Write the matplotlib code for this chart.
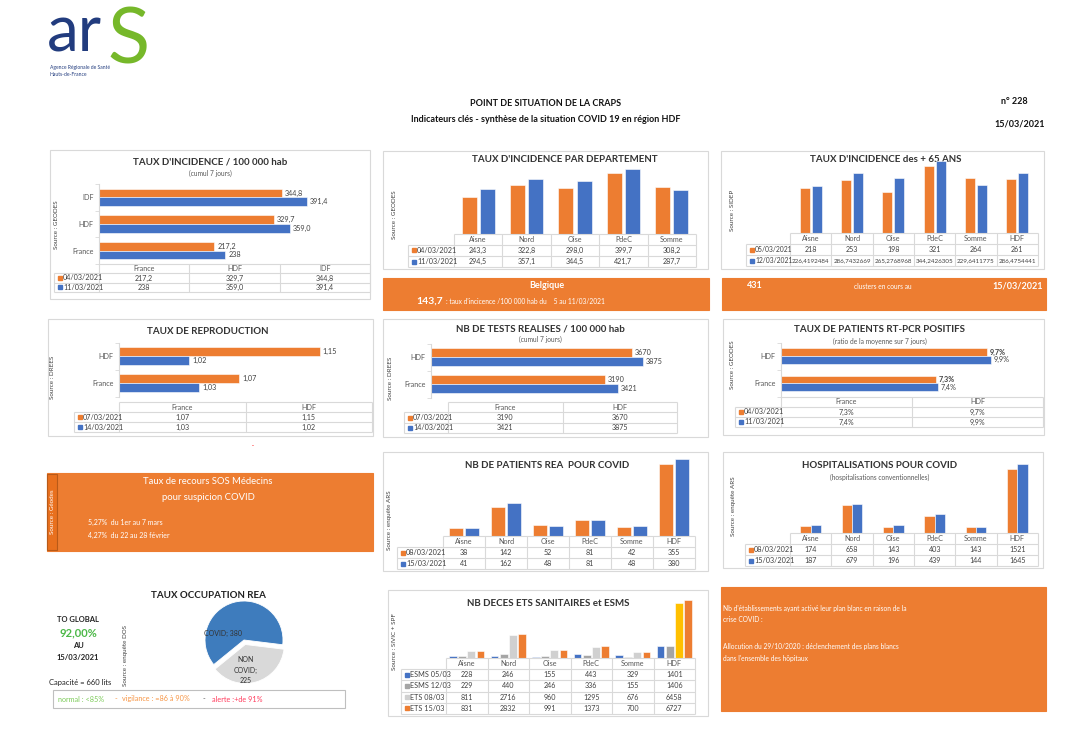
import numpy as np
import matplotlib
matplotlib.use("Agg")
import matplotlib.pyplot as plt
from matplotlib.patches import Rectangle
from matplotlib.transforms import ScaledTranslation

plt.rcParams['font.family'] = ['Lato', 'DejaVu Sans']

W, H = 1083, 734
ORANGE = '#ED7D31'
BLUE = '#4472C4'
GREY = '#A5A5A5'
LGREY = '#D0D0D0'
GOLD = '#FFC000'
TXT = '#404040'
LINE = '#D9D9D9'

# ---- data ----
inc_cats = ['France', 'HDF', 'IDF']
inc_0403 = [217.2, 329.7, 344.8]
inc_1103 = [238, 359.0, 391.4]

dep_cats = ['Aisne', 'Nord', 'Oise', 'PdeC', 'Somme']
dep_0403 = [243.3, 322.8, 298.0, 399.7, 308.2]
dep_1103 = [294.5, 357.1, 344.5, 421.7, 287.7]

age_cats = ['Aisne', 'Nord', 'Oise', 'PdeC', 'Somme', 'HDF']
age_0503 = [218, 253, 198, 321, 264, 261]
age_1203 = [226.4192484, 286.7432669, 265.2768968, 344.2426305, 229.6411775, 286.4754441]

r_cats = ['France', 'HDF']
r_0703 = [1.07, 1.15]
r_1403 = [1.03, 1.02]

test_cats = ['France', 'HDF']
test_0703 = [3190, 3670]
test_1403 = [3421, 3875]

pcr_cats = ['France', 'HDF']
pcr_0403 = [7.3, 9.7]
pcr_1103 = [7.4, 9.9]

rea_cats = ['Aisne', 'Nord', 'Oise', 'PdeC', 'Somme', 'HDF']
rea_0803 = [38, 142, 52, 81, 42, 355]
rea_1503 = [41, 162, 48, 81, 48, 380]

hosp_cats = ['Aisne', 'Nord', 'Oise', 'PdeC', 'Somme', 'HDF']
hosp_0803 = [174, 658, 143, 403, 143, 1521]
hosp_1503 = [187, 679, 196, 439, 144, 1645]

dc_cats = ['Aisne', 'Nord', 'Oise', 'PdeC', 'Somme', 'HDF']
dc_esms_0503 = [228, 246, 155, 443, 329, 1401]
dc_esms_1203 = [229, 440, 246, 336, 155, 1406]
dc_ets_0803 = [811, 2716, 960, 1295, 676, 6458]
dc_ets_1503 = [831, 2832, 991, 1373, 700, 6727]
dc_names = ['ESMS 05/03', 'ESMS 12/03', 'ETS 08/03', 'ETS 15/03']

occ_names = ['COVID', 'NON\nCOVID']
occ_values = [380, 225]


def frac(x0, y0, x1, y1):
    # pixel box (top-left origin) -> figure fraction
    return [x0 / W, 1 - y1 / H, (x1 - x0) / W, (y1 - y0) / H]


def fr(v, suffix=''):
    return str(v).replace('.', ',') + suffix


fig = plt.figure(figsize=(W / 100, H / 100), dpi=100)
bg = fig.add_axes([0, 0, 1, 1])
bg.set_xlim(0, W)
bg.set_ylim(H, 0)
bg.axis('off')


def box(x0, y0, x1, y1, fc='none', ec=LINE):
    bg.add_patch(Rectangle((x0, y0), x1 - x0, y1 - y0, fc=fc, ec=ec, lw=0.8))


def title(x, y, s, sub=None, sy=None):
    bg.text(x, y, s, ha='center', va='center', fontsize=7, fontweight='bold', color='#333333')
    if sub:
        bg.text(x, sy, sub, ha='center', va='center', fontsize=4.8, color='#595959')


def source(x, y, s, color=TXT):
    bg.text(x, y, s, ha='center', va='center', rotation=90, fontsize=4.5, color=color)


def table(label_x, data_x, right, top, bottom, cols, rows, colors, cells, suffix='', vfs=None, lfs=5.2):
    n = len(cols)
    nr = len(rows)
    if vfs is None:
        vfs = [5.1] * nr
    lw = (data_x - label_x) / ((right - data_x) / n)
    ax = fig.add_axes(frac(label_x, top, right, bottom))
    ax.set_xlim(-0.5 - lw, n - 0.5)
    ax.set_ylim(nr + 1, 0)
    ax.axis('off')
    ax.hlines([0], -0.5, n - 0.5, color=LINE, lw=0.8, clip_on=False)
    ax.hlines(range(1, nr + 2), -0.5 - lw, n - 0.5, color=LINE, lw=0.8, clip_on=False)
    ax.vlines([i - 0.5 for i in range(n + 1)], 0, nr + 1, color=LINE, lw=0.8, clip_on=False)
    ax.vlines([-0.5 - lw], 1, nr + 1, color=LINE, lw=0.8, clip_on=False)
    for i, c in enumerate(cols):
        ax.text(i, 0.5, c, ha='center', va='center', fontsize=5.2, color='#595959')
    off1 = ax.transData + ScaledTranslation(4 / 72, 0, fig.dpi_scale_trans)
    off2 = ax.transData + ScaledTranslation(6.5 / 72, 0, fig.dpi_scale_trans)
    for r in range(nr):
        y = r + 1.5
        ax.plot([-0.5 - lw], [y], marker='s', ms=3, color=colors[r], transform=off1, clip_on=False)
        ax.text(-0.5 - lw, y, rows[r], ha='left', va='center', fontsize=lfs, color=TXT, transform=off2)
        for i, v in enumerate(cells[r]):
            ax.text(i, y, fr(v, suffix), ha='center', va='center', fontsize=vfs[r], color=TXT)
    return ax


def columns(data_x, right, top, base, ymax, series, colors, width, offsets):
    ax = fig.add_axes(frac(data_x, top, right, base))
    ax.patch.set_alpha(0)
    x = np.arange(len(series[0]))
    conts = []
    for s, c, o in zip(series, colors, offsets):
        conts.append(ax.bar(x + o, s, width, color=c, edgecolor='white', linewidth=0.4))
    ax.set_xlim(-0.5, len(x) - 0.5)
    ax.set_ylim(0, ymax)
    ax.axis('off')
    return ax, conts


def hbars(x0, x1, y0, y1, cats, s_old, s_new, xlim, h, suffix='', bold_old=False):
    ax = fig.add_axes(frac(x0, y0, x1, y1))
    ax.patch.set_alpha(0)
    y = np.arange(len(cats))
    b1 = ax.barh(y + h / 2, s_old, h, color=ORANGE, edgecolor='white', linewidth=0.4)
    b2 = ax.barh(y - h / 2, s_new, h, color=BLUE, edgecolor='white', linewidth=0.4)
    ax.bar_label(b1, labels=[fr(v, suffix) for v in s_old], padding=2, fontsize=5.2, color=TXT,
                 fontweight='bold' if bold_old else 'normal')
    ax.bar_label(b2, labels=[fr(v, suffix) for v in s_new], padding=2, fontsize=5.2, color=TXT)
    ax.set_xlim(*xlim)
    ax.set_ylim(-0.5, len(cats) - 0.5)
    ax.set_yticks(y, cats, fontsize=5.2, color='#595959')
    ax.set_yticks(np.arange(len(cats) + 1) - 0.5, minor=True)
    ax.tick_params(axis='y', which='major', length=0, pad=4)
    ax.tick_params(axis='y', which='minor', length=3, color=LINE)
    ax.set_xticks([])
    for s in ['top', 'right', 'bottom']:
        ax.spines[s].set_visible(False)
    ax.spines['left'].set_color(LINE)
    return ax


# ---- header ----
bg.text(47, 52, 'ar', fontsize=46, color='#223C7E', ha='left', va='baseline')
bg.text(108, 64, 'S', fontsize=56, color='#76B82A', ha='left', va='baseline')
bg.text(50, 68, 'Agence Régionale de Santé', fontsize=3.6, color='#223C7E', va='center')
bg.text(50, 74, 'Hauts-de-France', fontsize=3.6, color='#223C7E', va='center')
bg.text(546, 103, 'POINT DE SITUATION DE LA CRAPS', ha='center', va='center', fontsize=6.5,
        fontweight='bold', color='#111111')
bg.text(546, 119, 'Indicateurs clés - synthèse de la situation COVID 19 en région HDF', ha='center',
        va='center', fontsize=6.5, fontweight='bold', color='#111111')
bg.text(1028, 101, 'n° 228', ha='right', va='center', fontsize=6.5, fontweight='bold', color='#111111')
bg.text(1045, 124, '15/03/2021', ha='right', va='center', fontsize=6.5, fontweight='bold', color='#111111')

# ---- taux d'incidence ----
box(50, 150, 370, 299)
title(210, 162, "TAUX D'INCIDENCE / 100 000 hab", '(cumul 7 jours)', 173)
source(56, 225, 'Source : GEODES')
hbars(99, 338, 184, 264, inc_cats, inc_0403, inc_1103, (0, 450), 0.32)
table(54, 99, 370, 264, 292, inc_cats, ['04/03/2021', '11/03/2021'], [ORANGE, BLUE],
      [inc_0403, inc_1103])

# ---- incidence par departement ----
box(383, 151, 708, 269)
title(565, 160, "TAUX D'INCIDENCE PAR DEPARTEMENT")
source(395, 215, 'Source : GEODES')
columns(454, 696, 165, 234, 450, [dep_0403, dep_1103], [ORANGE, BLUE], 0.31, [-0.19, 0.19])
table(408, 454, 696, 234, 267, dep_cats, ['04/03/2021', '11/03/2021'], [ORANGE, BLUE],
      [dep_0403, dep_1103])

# ---- incidence +65 ----
box(721, 151, 1044, 269)
title(886, 160, "TAUX D'INCIDENCE des + 65 ANS")
source(733, 210, 'Source : SIDEP')
columns(790, 1038, 160, 233, 350, [age_0503, age_1203], [ORANGE, BLUE], 0.245, [-0.145, 0.145])
table(746, 790, 1038, 233, 266, age_cats, ['05/03/2021', '12/03/2021'], [ORANGE, BLUE],
      [age_0503, age_1203], vfs=[5.1, 4.5], lfs=4.9)

# ---- orange banners ----
box(383, 278, 709, 310, fc=ORANGE, ec=ORANGE)
bg.text(547, 286, 'Belgique', ha='center', va='center', fontsize=6.5, fontweight='bold', color='white')
bg.text(443, 301, '143,7', ha='right', va='center', fontsize=7.5, fontweight='bold', color='white')
bg.text(446, 301.5, ": taux d'incicence /100 000 hab du    5 au 11/03/2021", ha='left', va='center',
        fontsize=4.8, color='white')
box(722, 278, 1046, 310, fc=ORANGE, ec=ORANGE)
bg.text(747, 286, '431', ha='left', va='center', fontsize=6.5, fontweight='bold', color='white')
bg.text(883, 286.5, 'clusters en cours au', ha='center', va='center', fontsize=4.8, color='white')
bg.text(1043, 286, '15/03/2021', ha='right', va='center', fontsize=6.5, fontweight='bold', color='white')

# ---- taux de reproduction ----
box(48, 319, 373, 436)
title(208, 332, 'TAUX DE REPRODUCTION')
source(53, 377, 'Source : DREES')
hbars(119, 370, 343, 396.5, r_cats, r_0703, r_1403, (0.95, 1.2), 0.34)
table(74, 119, 372, 402, 432, r_cats, ['07/03/2021', '14/03/2021'], [ORANGE, BLUE], [r_0703, r_1403])
bg.text(253, 447, '.', ha='center', va='bottom', fontsize=6, color='red')

# ---- tests ----
box(383, 319, 708, 437)
title(540, 329, 'NB DE TESTS REALISES / 100 000 hab', '(cumul 7 jours)', 339)
source(390, 378, 'Source : DREES')
hbars(431, 677, 343.5, 397.5, test_cats, test_0703, test_1403, (0, 4500), 0.34)
table(404, 448, 677, 402, 433, test_cats, ['07/03/2021', '14/03/2021'], [ORANGE, BLUE],
      [test_0703, test_1403])

# ---- RT-PCR ----
box(723, 319, 1044, 435)
title(880, 330, 'TAUX DE PATIENTS RT-PCR POSITIFS', '(ratio de la moyenne sur 7 jours)', 341)
source(733, 365, 'Source : GEODES')
hbars(781, 1043, 342.5, 397, pcr_cats, pcr_0403, pcr_1103, (0, 12.36), 0.28, suffix='%', bold_old=True)
table(735, 781, 1043, 397, 427, pcr_cats, ['04/03/2021', '11/03/2021'], [ORANGE, BLUE],
      [pcr_0403, pcr_1103], suffix='%')

# ---- SOS medecins ----
box(47, 473, 373, 551, fc=ORANGE, ec=ORANGE)
bg.add_patch(Rectangle((47, 474), 10, 76, fc='#E8701E', ec='#B85A18', lw=0.8))
source(52, 512, 'Source : Géodes', color='white')
bg.text(208, 482, 'Taux de recours SOS Médecins', ha='center', va='center', fontsize=6.8, color='white')
bg.text(208, 498, 'pour suspicion COVID', ha='center', va='center', fontsize=6.8, color='white')
bg.text(88, 522, '5,27%  du 1er au 7 mars', ha='left', va='center', fontsize=5, color='white')
bg.text(88, 535, '4,27%  du 22 au 28 février', ha='left', va='center', fontsize=5, color='white')

# ---- patients REA ----
box(383, 452, 708, 571)
title(547, 465, 'NB DE PATIENTS REA  POUR COVID')
source(390, 520, 'Source : enquête ARS')
columns(443, 695, 455, 536, 400, [rea_0803, rea_1503], [ORANGE, BLUE], 0.32, [-0.195, 0.195])
table(397, 443, 695, 536, 569, rea_cats, ['08/03/2021', '15/03/2021'], [ORANGE, BLUE],
      [rea_0803, rea_1503])

# ---- hospitalisations ----
box(723, 452, 1043, 568)
title(880, 465, 'HOSPITALISATIONS POUR COVID', '(hospitalisations conventionnelles)', 477)
source(733, 506, 'Source : enquête ARS')
columns(790, 1038, 457, 533, 1800, [hosp_0803, hosp_1503], [ORANGE, BLUE], 0.25, [-0.125, 0.125])
table(745, 790, 1038, 533, 566, hosp_cats, ['08/03/2021', '15/03/2021'], [ORANGE, BLUE],
      [hosp_0803, hosp_1503])

# ---- deces ----
box(388, 590, 708, 716)
title(548, 603, 'NB DECES ETS SANITAIRES et ESMS')
source(395, 642, 'Source : SIVIC + SPF')
dc_series = [dc_esms_0503, dc_esms_1203, dc_ets_0803, dc_ets_1503]
dc_colors = [BLUE, GREY, LGREY, ORANGE]
ax_dc, dc_bars = columns(446, 695, 598, 658, 7000, dc_series, dc_colors, 0.19, [-0.33, -0.11, 0.11, 0.33])
dc_bars[2][dc_cats.index('HDF')].set_facecolor(GOLD)
table(401, 446, 695, 658, 714, dc_cats, dc_names, dc_colors, dc_series)

# ---- taux occupation REA ----
bg.text(208, 596, 'TAUX OCCUPATION REA', ha='center', va='center', fontsize=7, fontweight='bold',
        color='#222222')
bg.text(78, 620, 'TO GLOBAL', ha='center', va='center', fontsize=5.5, fontweight='bold', color='#222222')
bg.text(78, 633, '92,00%', ha='center', va='center', fontsize=8, fontweight='bold', color='#4CB848')
bg.text(78, 646, 'AU', ha='center', va='center', fontsize=5.5, fontweight='bold', color='#222222')
bg.text(78, 658, '15/03/2021', ha='center', va='center', fontsize=5.5, fontweight='bold', color='#222222')
bg.text(80, 682, 'Capacité = 660 lits', ha='center', va='center', fontsize=5.5, color='#222222')
source(125, 655, 'Source : enquête DOS')

ax_pie = fig.add_axes(frac(205, 601, 283, 679))
wedges, _ = ax_pie.pie(occ_values, colors=['#3E7CBD', '#D9D9D9'], startangle=-7, explode=(0, 0.12),
                       wedgeprops=dict(edgecolor='white', linewidth=0.6))
for w_ in wedges:
    w_.set_clip_on(False)
ax_pie.set_xlim(-1, 1)
ax_pie.set_ylim(-1, 1)
ax_pie.text(-0.54, 0.18, f'{occ_names[0]}; {occ_values[0]}', ha='center', va='center', fontsize=5, color='#333333')
ax_pie.text(0.05, -0.77, f'{occ_names[1]};\n{occ_values[1]}', ha='center', va='center', fontsize=5,
            color='#333333', linespacing=1.5)

box(53, 690, 345, 708, ec='#BFBFBF')
bg.text(58, 699, 'normal : <85%', ha='left', va='center', fontsize=5.2, color='#7DCB5A')
bg.text(116, 699, '-', ha='center', va='center', fontsize=5.2, color='#F79646')
bg.text(122, 699, 'vigilance : =86 à 90%', ha='left', va='center', fontsize=5.2, color='#F79646')
bg.text(204, 699, '-', ha='center', va='center', fontsize=5.2, color='#595959')
bg.text(212, 699, 'alerte :+de 91%', ha='left', va='center', fontsize=5.2, color='#FF3B5C')

# ---- plan blanc ----
box(721, 587, 1046, 711, fc=ORANGE, ec=ORANGE)
bg.text(723, 608, "Nb d'établissements ayant activé leur plan blanc en raison de la", ha='left',
        va='center', fontsize=4.8, color='white')
bg.text(723, 620, 'crise COVID :', ha='left', va='center', fontsize=4.8, color='white')
bg.text(723, 647, 'Allocution du 29/10/2020 : déclenchement des plans blancs', ha='left',
        va='center', fontsize=4.8, color='white')
bg.text(723, 659, "dans l'ensemble des hôpitaux", ha='left', va='center', fontsize=4.8, color='white')

fig.savefig('out.png', dpi=100)
